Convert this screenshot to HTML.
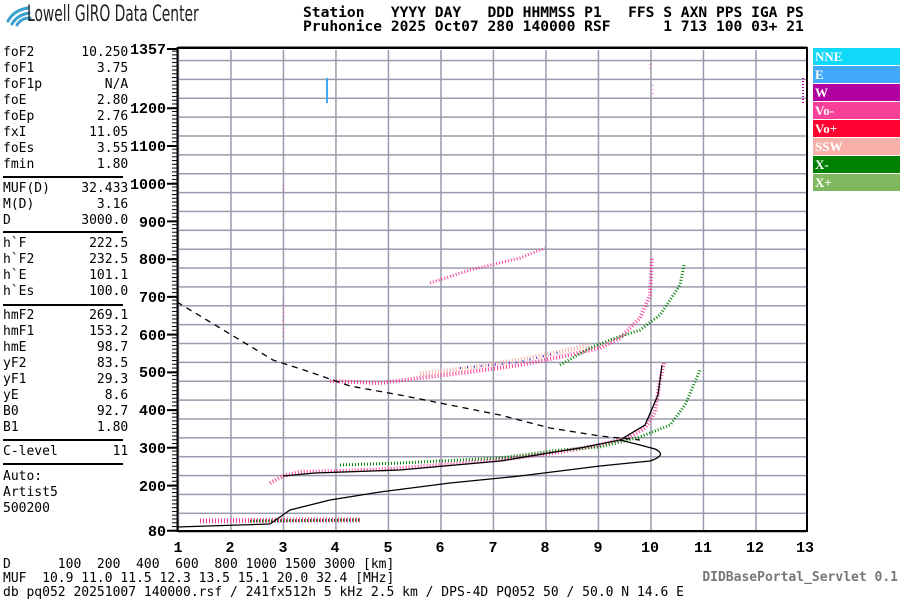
<!DOCTYPE html>
<html><head><meta charset="utf-8"><style>
body{margin:0;background:#fff;width:900px;height:600px;overflow:hidden;position:relative}
pre{margin:0;position:absolute;font-family:"DejaVu Sans Mono","Liberation Mono",monospace}
.hdr{left:303px;top:6px;font-size:14.6px;font-weight:bold;line-height:14px;color:#000}
.lp{left:3px;font-size:13px;line-height:16px;color:#000}
.sep{position:absolute;left:3px;width:120px;height:2px;background:#000}
.leg{position:absolute;left:813px;width:87px;height:17px;color:#fff;font:bold 13px "Liberation Serif",serif;line-height:17px;padding-left:2px;box-sizing:border-box}
</style></head><body>
<svg style="position:absolute;left:0;top:0" width="900" height="600">
<g fill="none" stroke="#3aa0d0" stroke-width="3" stroke-linecap="round">
<path d="M8 21 Q14 10 28 8"/><path d="M12 24 Q17 15 29 13"/><path d="M17 25 Q21 18 30 18"/></g>
<defs>
<pattern id="vg" x="177.7" y="0" width="52.5" height="600" patternUnits="userSpaceOnUse"><rect x="0" y="0" width="1.5" height="600" fill="#9a9aae"/></pattern>
<pattern id="hg" x="0" y="-0.5" width="900" height="18.865" patternUnits="userSpaceOnUse"><rect x="0" y="0" width="900" height="1.5" fill="#9a9aae"/></pattern>
<pattern id="mt" x="0" y="1.58" width="10" height="3.773" patternUnits="userSpaceOnUse"><rect x="0" y="0" width="10" height="1" fill="#000"/></pattern>
</defs>
<rect x="178" y="50" width="628" height="480" fill="url(#vg)"/>
<rect x="178" y="53" width="628" height="476" fill="url(#hg)" transform="translate(0,3.7)"/>
<rect x="172" y="49" width="5" height="482" fill="url(#mt)"/>
<g stroke="#000" stroke-width="2" fill="none">
<path d="M177.5 48 V531 H807 V48 Z"/>
<path d="M167 49H177M167 108.3H177M167 146H177M167 183.7H177M167 221.4H177M167 259.2H177M167 296.9H177M167 334.6H177M167 372.4H177M167 410.1H177M167 447.8H177M167 485.6H177M167 530.8H177"/>
</g>
<path d="M178 46.5H807" stroke="#888" stroke-width="1"/>
<g font-family="Liberation Mono,monospace" font-weight="bold" font-size="15" text-anchor="end">
<text x="166" y="54">1357</text><text x="166" y="113">1200</text><text x="166" y="151">1100</text><text x="166" y="189">1000</text>
<text x="166" y="227">900</text><text x="166" y="264">800</text><text x="166" y="302">700</text><text x="166" y="340">600</text>
<text x="166" y="377">500</text><text x="166" y="415">400</text><text x="166" y="453">300</text><text x="166" y="491">200</text><text x="166" y="536">80</text>
</g>
<g font-family="Liberation Mono,monospace" font-weight="bold" font-size="15" text-anchor="middle">
<text x="178" y="552">1</text><text x="230" y="552">2</text><text x="283" y="552">3</text><text x="335" y="552">4</text><text x="388" y="552">5</text><text x="440" y="552">6</text><text x="493" y="552">7</text><text x="545" y="552">8</text><text x="598" y="552">9</text><text x="650" y="552">10</text><text x="703" y="552">11</text><text x="755" y="552">12</text><text x="805" y="552">13</text>
</g>
<!-- data -->
<g fill="none" stroke-dasharray="1 2">
<path d="M200 521 L300 520 L360 520" stroke="#f84098" stroke-width="5"/>
<path d="M250 521 L360 520" stroke="#008000" stroke-width="3"/>
<path d="M270 483 L283 476 L300 472 L340 471 L390 469 L440 465 L500 460 L560 452 L600 445 L630 437 L645 428 L655 412 L660 380 L664 363" stroke="#f84098" stroke-width="4"/>
<path d="M340 465 L400 463 L500 458 L560 450 L600 447 L640 437 L670 425 L685 405 L700 370" stroke="#008000" stroke-width="3"/>
<path d="M330 381 L380 383 L420 378 L470 372 L520 365 L560 357 L600 348 L620 338 L640 318 L650 295 L652 257" stroke="#f84098" stroke-width="4"/>
<path d="M420 374 L470 368 L520 360 L560 352 L590 345" stroke="#f8b0a8" stroke-width="5"/>
<path d="M460 368 L520 362 L560 352" stroke="#3030f0" stroke-width="2" stroke-dasharray="1 6"/>
<path d="M560 365 L590 348 L610 340 L640 330 L660 315 L680 285 L684 265" stroke="#008000" stroke-width="3"/>
<path d="M430 283 L470 270 L520 258 L545 248" stroke="#f84098" stroke-width="3"/>
<path d="M327 78 V103" stroke="#40a8f8" stroke-width="2" stroke-dasharray="none"/>
<path d="M803 78 V103" stroke="#b000a0" stroke-width="2"/>
<path d="M653 85 V95M650 60 V70M283 300 V340M283 185 V190" stroke="#f84098" stroke-width="1" stroke-dasharray="1 3"/>
</g>
<g fill="none" stroke="#000" stroke-width="1.3">
<path d="M177 527 L270 524 L290 510 L330 500 L380 492 L450 483 L520 476 L600 466 L650 461 Q668 455 655 449 L640 445 L620 440"/>
<path d="M283 476 L315 473 L400 470 L500 461 L580 448 L620 440 L645 425 L658 395 L662 365"/>
<path d="M177 302 L273 360 L310 372 L350 386 L400 395 L450 405 L500 415 L550 428 L600 436 L640 440" stroke-dasharray="6 5"/>
</g>
</svg>
<div style="position:absolute;left:27px;top:2px;font:22px 'DejaVu Sans Condensed','Liberation Sans Narrow',sans-serif;color:#222;transform:scaleX(0.7);transform-origin:left">Lowell GIRO Data Center</div>
<pre class="hdr">Station   YYYY DAY   DDD HHMMSS P1   FFS S AXN PPS IGA PS
Pruhonice 2025 Oct07 280 140000 RSF      1 713 100 03+ 21</pre>
<pre class="lp" style="top:45px">foF2      10.250
foF1        3.75
foF1p        N/A
foE         2.80
foEp        2.76
fxI        11.05
foEs        3.55
fmin        1.80</pre>
<div class="sep" style="top:176px"></div>
<pre class="lp" style="top:181px">MUF(D)    32.433
M(D)        3.16
D         3000.0</pre>
<div class="sep" style="top:231px"></div>
<pre class="lp" style="top:236px">h`F        222.5
h`F2       232.5
h`E        101.1
h`Es       100.0</pre>
<div class="sep" style="top:304px"></div>
<pre class="lp" style="top:308px">hmF2       269.1
hmF1       153.2
hmE         98.7
yF2         83.5
yF1         29.3
yE           8.6
B0          92.7
B1          1.80</pre>
<div class="sep" style="top:439px"></div>
<pre class="lp" style="top:444px">C-level       11</pre>
<div class="sep" style="top:463px"></div>
<pre class="lp" style="top:469px">Auto:
Artist5
500200</pre>
<pre class="lp" style="top:558px;line-height:14px">D      100  200  400  600  800 1000 1500 3000 [km]
MUF  10.9 11.0 11.5 12.3 13.5 15.1 20.0 32.4 [MHz]
db pq052 20251007 140000.rsf / 241fx512h 5 kHz 2.5 km / DPS-4D PQ052 50 / 50.0 N 14.6 E</pre>
<pre style="right:2px;top:570px;font-size:13px;font-weight:bold;color:#777">DIDBasePortal_Servlet 0.1</pre>
<div class="leg" style="top:48px;background:#10d8f8">NNE</div>
<div class="leg" style="top:66px;background:#40a8f8">E</div>
<div class="leg" style="top:84px;background:#b000a0">W</div>
<div class="leg" style="top:102px;background:#f84098">Vo-</div>
<div class="leg" style="top:120px;background:#ff0030">Vo+</div>
<div class="leg" style="top:138px;background:#f8b0a8">SSW</div>
<div class="leg" style="top:156px;background:#008000">X-</div>
<div class="leg" style="top:174px;background:#80b860">X+</div>
</body></html>
